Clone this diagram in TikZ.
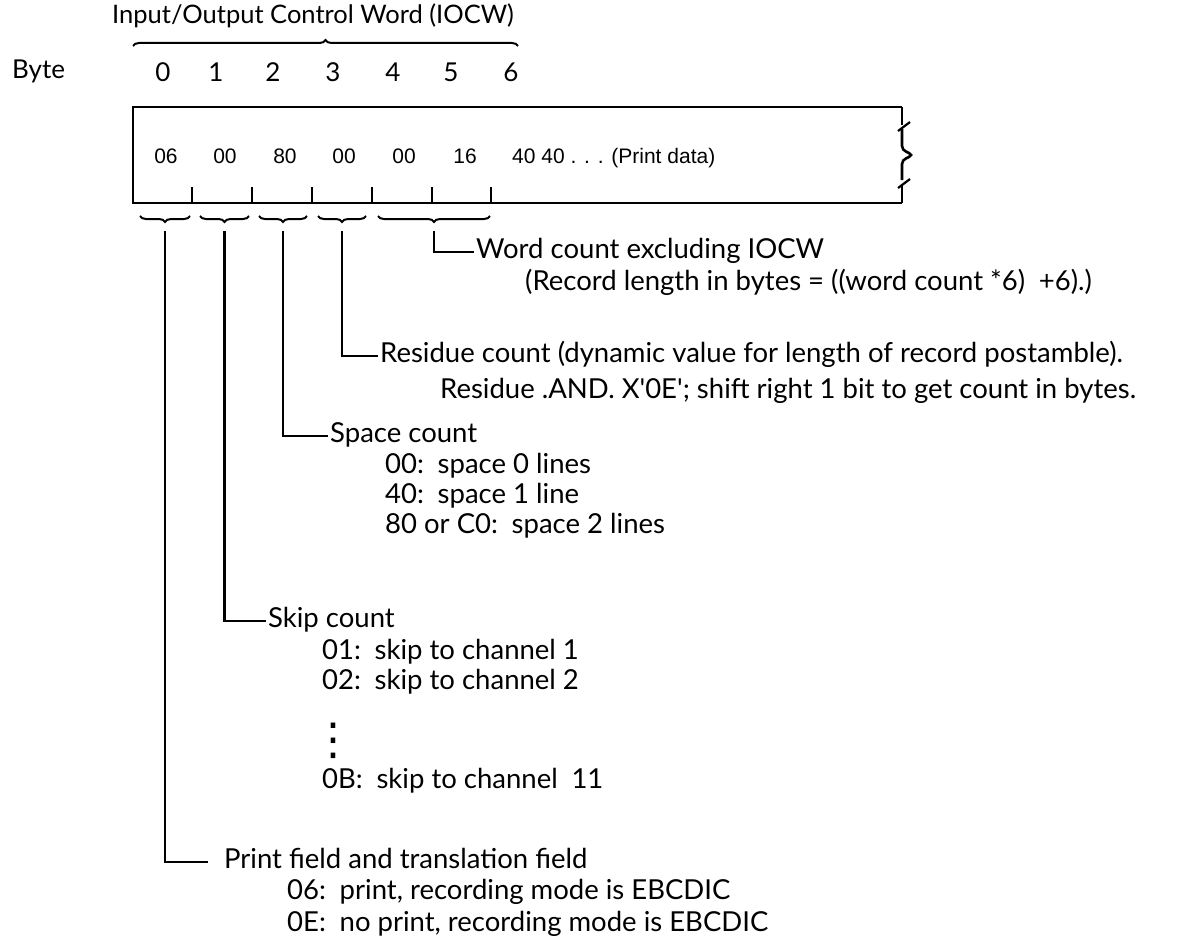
\documentclass[tikz,border=0pt]{standalone}
\usepackage{fontspec}
\setmainfont{Lato}
\newfontfamily\helv{Liberation Sans}
\newfontfamily\dejavu{DejaVu Sans}
\usetikzlibrary{decorations.pathreplacing}
\begin{document}
\begin{tikzpicture}[x=1pt,y=-1pt,
  lbl/.style={font=\fontsize{27.5}{32}\selectfont, anchor=west, inner sep=2pt, text height=19pt, text depth=6pt},
  dig/.style={font=\fontsize{26}{30}\selectfont, inner sep=1pt},
  val/.style={font=\helv\fontsize{21}{24}\selectfont, inner sep=1pt, text height=15pt, text depth=4pt},
  boxline/.style={line width=2.6pt, line join=miter},
  conn/.style={line width=2.2pt},
  brc/.style={line width=2pt, decorate, decoration={brace, amplitude=6pt}}]
\useasboundingbox (0,0) rectangle (1181,942);
% title and brace
\node[lbl, font=\fontsize{25.5}{30}\selectfont] (title) at (110,17) {Input/Output Control Word (IOCW)};
\draw[brc] (133,46) -- (518,46);
\node[lbl, font=\fontsize{26}{30}\selectfont] (byte) at (10,72) {Byte};
\foreach \i/\x in {0/163,1/216,2/273,3/333,4/393,5/451,6/511}
  \node[dig] (d\i) at (\x,72) {\i};
% record box
\draw[boxline] (902,107) -- (133,107) -- (133,203) -- (902,203);
\draw[boxline] (902,107) -- (902,125);
\draw[conn] (898,131) -- (910,122);
\draw[boxline] (902,129) -- (902,146) .. controls (902,152) and (910,152) .. (911,155) .. controls (910,158) and (902,158) .. (902,164) -- (902,180);
\draw[conn] (898,188) -- (910,179);
\draw[boxline] (902,184) -- (902,203);
\foreach \x in {192,252,312,372,432,491}
  \draw[conn] (\x,203) -- (\x,187);
\foreach \i/\x/\t in {0/166/06,1/225/00,2/285/80,3/344/00,4/404/00,5/465/16}
  \node[val] (v\i) at (\x,158) {\t};
\node[val, anchor=west] (pd) at (511,158) {40 40 . . . (Print data)};
% lower braces
\draw[brc] (190,216) -- (140,216);
\draw[brc] (249,216) -- (200,216);
\draw[brc] (307,216) -- (259,216);
\draw[brc] (366,216) -- (318,216);
\draw[brc] (490,216) -- (378,216);
\coordinate (t0) at (165,231);
\coordinate (t1) at (224.5,231);
\coordinate (t2) at (283,231);
\coordinate (t3) at (342,231);
\coordinate (t4) at (434,231);
% word count
\node[lbl] (wc) at (474,252) {Word count excluding IOCW};
\node[lbl] (wc2) at (523,284) {(Record length in bytes = ((word count *6)\enspace+6).)};
\draw[conn] (t4) |- (wc.west);
% residue
\node[lbl] (rc) at (378,356) {Residue count (dynamic value for length of record postamble).};
\node[lbl] (rc2) at (438,392) {Residue .AND. X\textquotesingle0E\textquotesingle; shift right 1 bit to get count in bytes.};
\draw[conn] (t3) |- (rc.west);
% space count
\node[lbl] (sc) at (328,436) {Space count};
\node[lbl] (sc1) at (383,467) {00:\enspace space 0 lines};
\node[lbl] (sc2) at (383,497) {40:\enspace space 1 line};
\node[lbl] (sc3) at (383,527) {80 or C0:\enspace space 2 lines};
\draw[conn] (t2) |- (sc.west);
% skip count
\node[lbl] (kc) at (266,621) {Skip count};
\node[lbl] (kc1) at (320,653) {01:\enspace skip to channel 1};
\node[lbl] (kc2) at (320,683) {02:\enspace skip to channel 2};
\node[font=\dejavu\fontsize{44}{44}\selectfont, inner sep=0pt] (dots) at (333,741) {⋮};
\node[lbl] (kc3) at (320,782) {0B:\enspace skip to channel\enspace 11};
\draw[conn] (t1) |- (kc.west);
% print field
\node[lbl] (pf) at (222,862) {Print field and translation field};
\node[lbl] (pf1) at (285,893) {06:\enspace print, recording mode is EBCDIC};
\node[lbl] (pf2) at (285,925) {0E:\enspace no print, recording mode is EBCDIC};
\coordinate (pfe) at (208,862);
\draw[conn] (t0) |- (pfe);
\end{tikzpicture}
\end{document}
